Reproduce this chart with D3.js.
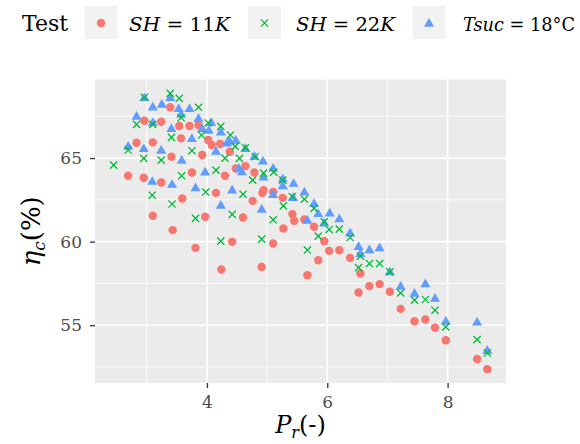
<!DOCTYPE html>
<html>
<head>
<meta charset="utf-8">
<script src="https://cdn.jsdelivr.net/npm/d3@7"></script>
<style>
  html, body { margin: 0; padding: 0; background: #ffffff; }
</style>
</head>
<body>
<div id="chart"></div>
<script>
// ---- data ----
const seriesNames = ["SH = 11K", "SH = 22K", "Tsuc = 18°C"];
const xTicks = [4, 6, 8];
const yTicks = [55, 60, 65];

const sh11 = [
  [3.39,68.04],[2.96,67.23],[3.24,67.17],[3.54,66.92],[3.71,66.92],[3.86,66.98],
  [2.83,65.92],[3.10,65.94],[3.57,66.18],[4.02,66.08],[4.08,65.78],[4.22,65.84],
  [3.41,65.08],[3.92,65.18],[4.38,65.38],[2.69,63.94],[2.95,63.82],[3.24,63.54],
  [3.75,64.14],[4.30,63.94],[4.48,64.38],[4.64,64.52],[4.79,64.14],[4.94,63.08],
  [4.92,62.92],[5.10,62.98],[5.26,62.62],[5.42,61.65],[5.45,61.25],[5.27,60.79],
  [5.10,59.89],[4.76,62.44],[4.60,61.45],[4.42,59.99],[4.15,62.92],[3.97,61.49],
  [3.59,62.58],[3.10,61.55],[3.43,60.69],[3.81,59.63],[4.24,58.34],[4.91,58.49],
  [5.62,61.33],[5.78,60.89],[5.95,60.03],[6.03,59.45],[6.20,59.49],[5.85,58.89],
  [5.67,57.99],[6.38,59.03],[6.55,58.10],[6.52,56.96],[6.70,57.34],[6.87,57.46],
  [7.04,57.00],[7.22,55.98],[7.45,55.24],[7.63,55.34],[7.79,54.86],[7.97,54.10],
  [8.49,52.98],[8.66,52.37]
];
const sh22 = [
  [3.39,68.87],[3.54,68.57],[2.96,68.63],[3.86,68.04],[2.83,67.02],[3.10,67.02],
  [3.57,67.41],[3.41,66.24],[2.69,65.48],[2.95,64.98],[3.24,64.88],[2.45,64.58],
  [3.75,65.44],[3.91,66.38],[4.02,67.10],[4.23,66.90],[4.39,66.38],[4.47,65.70],
  [4.64,65.62],[4.30,65.00],[4.54,64.98],[4.80,65.08],[4.15,64.28],[4.76,63.68],
  [4.94,64.10],[5.11,64.16],[3.98,62.97],[4.60,62.84],[5.27,62.14],[4.42,61.63],
  [5.10,61.31],[3.81,61.39],[4.23,60.03],[4.91,60.15],[5.42,62.70],[3.58,63.94],
  [3.09,62.78],[3.42,62.25],[5.26,63.68],[5.62,62.54],[5.78,61.99],[5.95,61.19],
  [6.03,60.73],[6.20,60.75],[5.85,60.33],[5.67,59.50],[6.38,60.25],[6.55,59.13],
  [6.52,58.45],[6.70,58.69],[6.87,58.69],[7.04,58.19],[7.22,56.93],[7.45,56.50],
  [7.63,56.54],[7.79,55.90],[7.97,54.90],[8.49,54.14],[8.66,53.34]
];
const tsuc18 = [
  [2.96,68.63],[3.10,68.07],[3.25,68.23],[3.39,68.63],[3.53,67.98],[3.57,67.63],
  [3.71,67.98],[2.83,67.51],[3.10,67.14],[3.41,66.78],[3.86,67.38],[3.92,66.78],
  [4.03,66.68],[4.07,67.14],[4.23,66.58],[2.69,65.72],[2.95,65.58],[3.24,65.48],
  [3.75,66.18],[4.15,65.42],[4.33,65.92],[4.38,66.02],[4.48,66.08],[4.64,65.58],
  [4.79,65.12],[4.93,64.84],[5.10,64.40],[5.26,63.78],[5.26,63.36],[5.44,63.50],
  [5.10,62.83],[4.58,64.20],[4.53,64.40],[3.97,64.18],[3.58,64.88],[3.09,63.62],
  [3.42,63.44],[3.81,63.24],[4.42,63.10],[4.23,62.19],[4.91,61.95],[5.43,62.65],
  [4.94,63.88],[5.62,62.98],[5.78,62.29],[5.85,61.69],[6.04,61.73],[6.20,61.39],
  [5.67,61.29],[5.95,61.13],[6.38,60.53],[6.52,59.73],[6.70,59.53],[6.87,59.65],
  [6.55,59.31],[7.04,58.21],[7.22,57.34],[7.45,56.93],[7.63,57.50],[7.79,56.63],
  [7.97,55.26],[8.49,55.20],[8.66,53.50]
];

// ---- layout ----
const W = 580, H = 444;
const FONT = "'DejaVu Serif', 'Liberation Serif', serif";
const panel = { left: 95, right: 506, top: 79.6, bottom: 383 };
const colors = ["#F8766D", "#00BA38", "#619CFF"];

const svg = d3.select("#chart").append("svg").attr("width", W).attr("height", H)
  .attr("font-family", FONT).style("font-family", FONT).style("display", "block");

const all = sh11.concat(sh22, tsuc18);
const xe = d3.extent(all, d => d[0]), ye = d3.extent(all, d => d[1]);
const xp = (xe[1] - xe[0]) * 0.05, yp = (ye[1] - ye[0]) * 0.05;
const x = d3.scaleLinear().domain([xe[0] - xp, xe[1] + xp]).range([panel.left, panel.right]);
const y = d3.scaleLinear().domain([ye[0] - yp, ye[1] + yp]).range([panel.bottom, panel.top]);

// panel background
svg.append("rect").attr("x", panel.left).attr("y", panel.top)
  .attr("width", panel.right - panel.left).attr("height", panel.bottom - panel.top)
  .attr("fill", "#EBEBEB");

// minor grid
const xMinor = [3, 5, 7], yMinor = [52.5, 57.5, 62.5, 67.5];
const grid = svg.append("g");
grid.selectAll(".xm").data(xMinor).join("line")
  .attr("x1", d => x(d)).attr("x2", d => x(d)).attr("y1", panel.top).attr("y2", panel.bottom)
  .attr("stroke", "#fff").attr("stroke-width", 0.8);
grid.selectAll(".ym").data(yMinor).join("line")
  .attr("y1", d => y(d)).attr("y2", d => y(d)).attr("x1", panel.left).attr("x2", panel.right)
  .attr("stroke", "#fff").attr("stroke-width", 0.8);
// major grid
grid.selectAll(".xM").data(xTicks).join("line")
  .attr("x1", d => x(d)).attr("x2", d => x(d)).attr("y1", panel.top).attr("y2", panel.bottom)
  .attr("stroke", "#fff").attr("stroke-width", 1.6);
grid.selectAll(".yM").data(yTicks).join("line")
  .attr("y1", d => y(d)).attr("y2", d => y(d)).attr("x1", panel.left).attr("x2", panel.right)
  .attr("stroke", "#fff").attr("stroke-width", 1.6);

// axes
const xAxis = d3.axisBottom(x).tickValues(xTicks).tickSize(5).tickPadding(8).tickFormat(d3.format("d"));
const yAxis = d3.axisLeft(y).tickValues(yTicks).tickSize(5).tickPadding(8).tickFormat(d3.format("d"));
const gx = svg.append("g").attr("transform", `translate(0,${panel.bottom})`).call(xAxis);
const gy = svg.append("g").attr("transform", `translate(${panel.left},0)`).call(yAxis);
[gx, gy].forEach(g => {
  g.attr("font-family", FONT).attr("font-size", 17);
  g.select(".domain").remove();
  g.selectAll(".tick line").attr("stroke", "#333333").attr("stroke-width", 1.3);
  g.selectAll(".tick text").attr("fill", "#4D4D4D");
});

// points
const pts = svg.append("g");
pts.selectAll(".r").data(sh11).join("circle")
  .attr("cx", d => x(d[0])).attr("cy", d => y(d[1])).attr("r", 4.2).attr("fill", colors[0]);
const tri = d3.symbol().type(d3.symbolTriangle).size(44);
pts.selectAll(".b").data(tsuc18).join("path")
  .attr("d", tri).attr("transform", d => `translate(${x(d[0])},${y(d[1]) + 0.8})`)
  .attr("fill", colors[2]);
const crossPath = "M-3.6,-3.6L3.6,3.6M-3.6,3.6L3.6,-3.6";
pts.selectAll(".g").data(sh22).join("path")
  .attr("d", crossPath).attr("transform", d => `translate(${x(d[0])},${y(d[1])})`)
  .attr("stroke", colors[1]).attr("stroke-width", 1.3).attr("fill", "none");

// axis titles
const xt = svg.append("text").attr("x", (panel.left + panel.right) / 2).attr("y", 433)
  .attr("text-anchor", "middle").attr("fill", "#000").attr("font-size", 24);
xt.append("tspan").style("font-style", "italic").text("P");
xt.append("tspan").attr("font-size", 16).attr("dy", 5).style("font-style", "italic").text("r");
xt.append("tspan").attr("dy", -5).text("(-)");

const yt = svg.append("text")
  .attr("transform", `translate(40,${(panel.top + panel.bottom) / 2}) rotate(-90)`)
  .attr("text-anchor", "middle").attr("fill", "#000").attr("font-size", 26);
yt.append("tspan").style("font-style", "italic").text("η");
yt.append("tspan").attr("font-size", 17).attr("dy", 5).style("font-style", "italic").text("c");
yt.append("tspan").attr("dy", -5).text("(%)");

// legend
const lg = svg.append("g");
lg.append("text").attr("x", 22).attr("y", 31).attr("fill", "#000").attr("font-size", 22).text("Test");
const keyX = [84.5, 248, 412.5], labX = [129, 296, 463], labW = [101, 99, 112];
const labelParts = [
  [["SH", true], [" = 11", false], ["K", true]],
  [["SH", true], [" = 22", false], ["K", true]],
  [["Tsuc", true], [" = 18°C", false]]
];
seriesNames.forEach((name, i) => {
  lg.append("rect").attr("x", keyX[i]).attr("y", 6).attr("width", 33).attr("height", 33).attr("fill", "#F2F2F2");
  const cx = keyX[i] + 16.5, cy = 23;
  if (i === 0) lg.append("circle").attr("cx", cx).attr("cy", cy).attr("r", 4.2).attr("fill", colors[0]);
  if (i === 1) lg.append("path").attr("d", crossPath).attr("transform", `translate(${cx},${cy})`)
    .attr("stroke", colors[1]).attr("stroke-width", 1.3);
  if (i === 2) lg.append("path").attr("d", tri).attr("transform", `translate(${cx},${cy + 0.8})`).attr("fill", colors[2]);
  const t = lg.append("text").attr("x", labX[i]).attr("y", 31).attr("fill", "#000").attr("font-size", 19)
    .attr("textLength", labW[i]).attr("lengthAdjust", "spacingAndGlyphs");
  labelParts[i].forEach(p => t.append("tspan").style("font-style", p[1] ? "italic" : "normal").text(p[0]));
});
</script>
</body>
</html>
